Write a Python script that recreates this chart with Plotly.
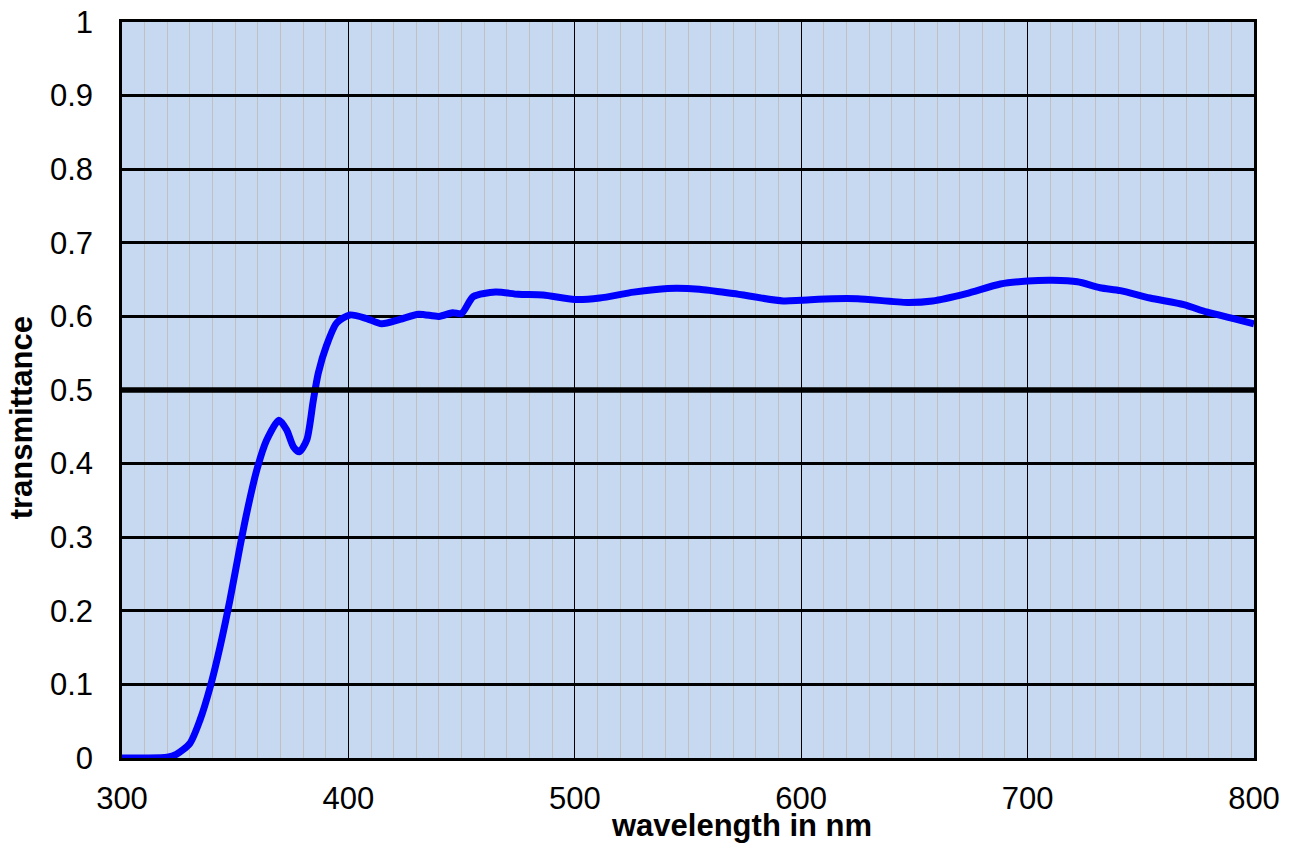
import plotly.graph_objects as go

# Data
wavelength_nm = [300, 310, 320, 324, 330, 334.5, 339, 343.3, 347.7, 352.1, 355.1, 359.5,
                 363.9, 369.3, 372.7, 375.7, 378.3, 381.6, 384.5, 386.7, 390.4, 394.8,
                 400.7, 408.1, 414.7, 422.8, 431, 440, 446, 450, 455.2, 465, 475, 486,
                 500, 511, 526, 541, 555, 570, 592, 600, 614, 625, 647, 658, 673, 688,
                 700, 711, 722, 732, 741, 754, 769, 779, 791, 800]
transmittance = [0.0, 0.0, 0.001, 0.005, 0.02, 0.052, 0.097, 0.151, 0.215, 0.287, 0.333, 0.391,
                 0.432, 0.459, 0.446, 0.423, 0.416, 0.432, 0.486, 0.523, 0.561, 0.591,
                 0.602, 0.597, 0.590, 0.596, 0.603, 0.600, 0.605, 0.604, 0.627, 0.633, 0.630, 0.629,
                 0.623, 0.625, 0.633, 0.638, 0.637, 0.631, 0.621, 0.622, 0.624, 0.624, 0.619, 0.621,
                 0.631, 0.644, 0.648, 0.649, 0.647, 0.639, 0.635, 0.625, 0.616, 0.606, 0.597, 0.590]

x_ticks = [300, 400, 500, 600, 700, 800]
y_ticks = [0, 0.1, 0.2, 0.3, 0.4, 0.5, 0.6, 0.7, 0.8, 0.9, 1]
y_tick_labels = ["0", "0.1", "0.2", "0.3", "0.4", "0.5", "0.6", "0.7", "0.8", "0.9", "1"]
REF_LEVEL = 0.5

FONT = "Arial, Liberation Sans, sans-serif"

fig = go.Figure()
fig.add_trace(go.Scatter(
    x=wavelength_nm, y=transmittance, mode="lines",
    line=dict(color="#0000FF", width=7, shape="spline", smoothing=0.7),
    showlegend=False, hoverinfo="skip",
))

fig.add_hline(y=REF_LEVEL, line=dict(color="black", width=5.5), layer="above")

fig.update_layout(
    width=1295, height=843,
    margin=dict(l=114, r=49, t=14, b=93, autoexpand=False),
    paper_bgcolor="white",
    plot_bgcolor="#C6D9F0",
    font=dict(family=FONT, size=31, color="black"),
    showlegend=False,
)

fig.update_xaxes(
    range=[300, 800], tickvals=x_ticks, ticktext=[str(v) for v in x_ticks],
    showgrid=True, gridcolor="black", gridwidth=1.2,
    minor=dict(dtick=10, tick0=300, showgrid=True, gridcolor="#C0C0C0", gridwidth=1.3),
    showline=True, linecolor="black", linewidth=2.5, mirror=True,
    ticks="", ticklabelstandoff=11, zeroline=False, ticklabeloverflow="allow",
    automargin=False,
    tickfont=dict(family=FONT, size=31, color="black"),
)
fig.update_yaxes(
    range=[0, 1], tickvals=y_ticks, ticktext=y_tick_labels,
    showgrid=True, gridcolor="black", gridwidth=2.5,
    showline=True, linecolor="black", linewidth=2.5, mirror=True,
    ticks="", ticklabelstandoff=20, zeroline=False, ticklabeloverflow="allow",
    automargin=False,
    tickfont=dict(family=FONT, size=31, color="black"),
)

fig.add_annotation(
    text="<b>wavelength in nm</b>", xref="paper", yref="paper",
    x=0.5477, y=-0.092, xanchor="center", yanchor="middle", showarrow=False,
    font=dict(family=FONT, size=31, color="black"),
)
fig.add_annotation(
    text="<b>transmittance</b>", xref="paper", yref="paper",
    x=-0.088, y=0.462, xanchor="center", yanchor="middle", showarrow=False,
    textangle=-90, font=dict(family=FONT, size=31, color="black"),
)

fig.write_html("out.html")
